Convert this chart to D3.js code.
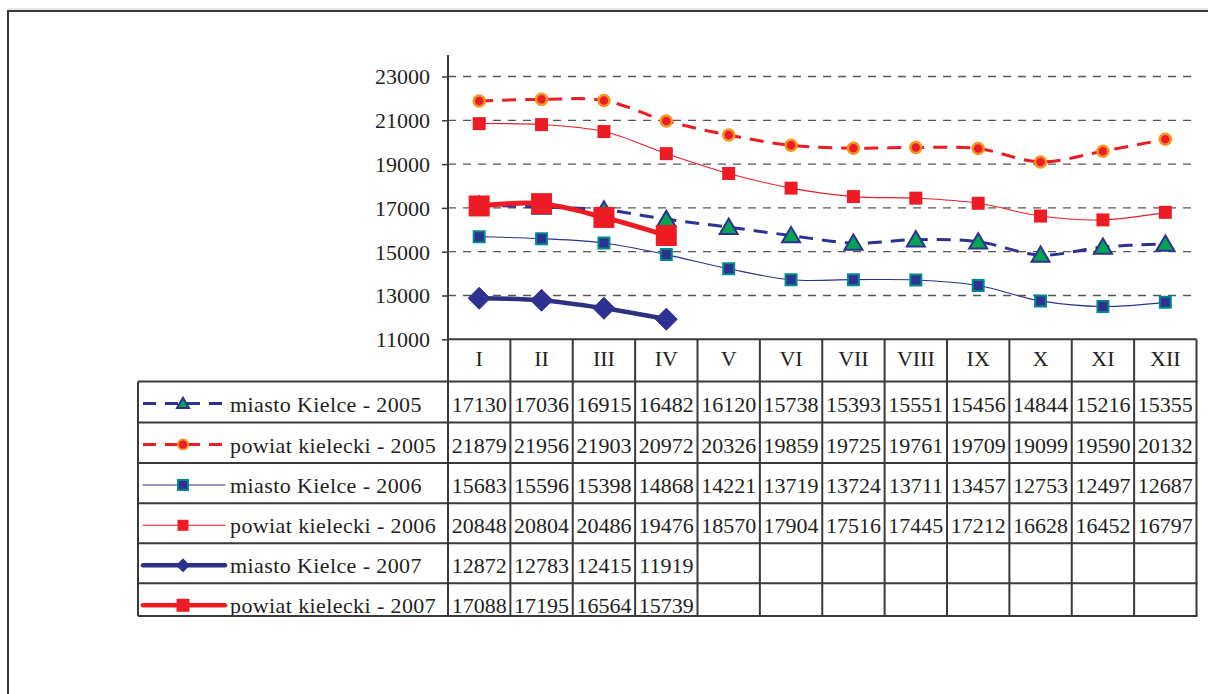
<!DOCTYPE html>
<html>
<head>
<meta charset="utf-8">
<script src="https://cdn.jsdelivr.net/npm/d3@7"></script>
<style>
  html, body { margin: 0; padding: 0; background: #fff; }
  svg { display: block; }
  text { font-family: "Liberation Serif", "Times New Roman", serif; fill: #231f20; }
</style>
</head>
<body>
<svg id="chart" width="1208" height="694"></svg>
<script>
// ---- data ----
const months = ["I","II","III","IV","V","VI","VII","VIII","IX","X","XI","XII"];
const yTicks = [11000,13000,15000,17000,19000,21000,23000];
const seriesNames = [
  "miasto Kielce - 2005",
  "powiat kielecki - 2005",
  "miasto Kielce - 2006",
  "powiat kielecki - 2006",
  "miasto Kielce - 2007",
  "powiat kielecki - 2007"
];
const kielce2005 = [17130,17036,16915,16482,16120,15738,15393,15551,15456,14844,15216,15355];
const powiat2005 = [21879,21956,21903,20972,20326,19859,19725,19761,19709,19099,19590,20132];
const kielce2006 = [15683,15596,15398,14868,14221,13719,13724,13711,13457,12753,12497,12687];
const powiat2006 = [20848,20804,20486,19476,18570,17904,17516,17445,17212,16628,16452,16797];
const kielce2007 = [12872,12783,12415,11919];
const powiat2007 = [17088,17195,16564,15739];
const seriesValues = [kielce2005, powiat2005, kielce2006, powiat2006, kielce2007, powiat2007];

// ---- styles ----
const NAVY = "#2e3192", RED = "#ed1c24", GREEN = "#00a651", ORANGE = "#f7941d", TEAL = "#008b8b";
const styles = [
  {stroke: NAVY, width: 3, dash: "14,9", marker: "triangle", fill: GREEN, mstroke: NAVY, msw: 2, size: 18, lsize: 12},
  {stroke: RED, width: 3, dash: "14,9", marker: "circle", fill: RED, mstroke: ORANGE, msw: 2.5, size: 11, lsize: 10},
  {stroke: NAVY, width: 1.1, dash: null, marker: "square", fill: NAVY, mstroke: TEAL, msw: 2, size: 11, lsize: 10},
  {stroke: RED, width: 1.1, dash: null, marker: "square", fill: RED, mstroke: RED, msw: 0, size: 13, lsize: 11},
  {stroke: "#2e3180", width: 4.5, dash: null, marker: "diamond", fill: NAVY, mstroke: "#2e3180", msw: 1, size: 22, lsize: 13},
  {stroke: RED, width: 5, dash: null, marker: "square", fill: RED, mstroke: RED, msw: 0, size: 21, lsize: 13}
];

const svg = d3.select("#chart");
const GRID = "#555";
const LINE = "#3a3a3a";

// outer frame
svg.append("line").attr("x1", 8).attr("x2", 1208).attr("y1", 9).attr("y2", 9).attr("stroke", "#ccc").attr("stroke-width", 1);
svg.append("path").attr("d", "M8,694 V11 H1208").attr("fill", "none").attr("stroke", LINE).attr("stroke-width", 2);

// scales
const plotLeft = 448, plotRight = 1196.5;
const x = d3.scaleBand().domain(months).range([plotLeft, plotRight]).padding(0);
const y = d3.scaleLinear().domain([11000, 24000]).range([339.3, 54.6]);

// grid lines
svg.append("g").selectAll("line").data(yTicks.filter(t => t > 11000)).join("line")
  .attr("x1", plotLeft).attr("x2", plotRight - 3)
  .attr("y1", d => y(d)).attr("y2", d => y(d))
  .attr("stroke", GRID).attr("stroke-width", 1.3).attr("stroke-dasharray", "8,7");

// y axis
const yAxis = d3.axisLeft(y).tickValues(yTicks).tickSize(6).tickPadding(12).tickFormat(d3.format("d"));
const gy = svg.append("g").attr("transform", `translate(${plotLeft},0)`).call(yAxis);
gy.select(".domain").remove();
gy.selectAll(".tick line").attr("stroke", LINE).attr("stroke-width", 1.5);
gy.selectAll(".tick text").attr("font-size", 22).attr("fill", "#231f20").attr("dy", "0.34em")
  .style("font-family", "'Liberation Serif', serif");
svg.append("line").attr("x1", plotLeft).attr("x2", plotLeft).attr("y1", 55).attr("y2", 616)
  .attr("stroke", LINE).attr("stroke-width", 2);

// x axis line + header row
svg.append("line").attr("x1", plotLeft).attr("x2", plotRight).attr("y1", y(11000)).attr("y2", y(11000))
  .attr("stroke", LINE).attr("stroke-width", 2);

// table geometry
const tableLeft = 138;
const rowTops = [381.5, 422.5, 463, 503.3, 543.3, 583.3];
const tableBottom = 616;
const headerTop = y(11000);

// column separators
svg.append("g").selectAll("line").data(months).join("line")
  .attr("x1", d => x(d) + x.bandwidth()).attr("x2", d => x(d) + x.bandwidth())
  .attr("y1", headerTop).attr("y2", tableBottom)
  .attr("stroke", LINE).attr("stroke-width", 2);
svg.append("line").attr("x1", tableLeft).attr("x2", tableLeft).attr("y1", rowTops[0]).attr("y2", tableBottom)
  .attr("stroke", LINE).attr("stroke-width", 2);
// row separators
svg.append("g").selectAll("line").data(rowTops.concat([tableBottom])).join("line")
  .attr("x1", tableLeft).attr("x2", plotRight + 1)
  .attr("y1", d => d).attr("y2", d => d)
  .attr("stroke", LINE).attr("stroke-width", 2);

// header labels
svg.append("g").selectAll("text").data(months).join("text")
  .attr("x", d => x(d) + x.bandwidth() / 2).attr("y", 366)
  .attr("text-anchor", "middle").attr("font-size", 22).text(d => d);

// marker path generator
function markerPath(type, s) {
  const h = s / 2;
  switch (type) {
    case "triangle": return `M0,${-h * 0.95} L${h},${h * 0.75} L${-h},${h * 0.75} Z`;
    case "square": return `M${-h},${-h} H${h} V${h} H${-h} Z`;
    case "diamond": return `M0,${-h} L${h},0 L0,${h} L${-h},0 Z`;
    case "circle": return d3.symbol(d3.symbolCircle, Math.PI * h * h)();
  }
}

// clip for table
const defs = svg.append("defs");
defs.append("clipPath").attr("id", "tableclip").append("rect")
  .attr("x", tableLeft).attr("y", rowTops[0]).attr("width", plotRight - tableLeft).attr("height", tableBottom - rowTops[0] - 1);

// series lines
const line = d3.line().x((d, i) => x(months[i]) + x.bandwidth() / 2).y(d => y(d)).curve(d3.curveCatmullRom.alpha(0.5));
const gSeries = svg.append("g");
seriesValues.forEach((vals, si) => {
  const st = styles[si];
  const g = gSeries.append("g");
  g.append("path").attr("d", line(vals)).attr("fill", "none")
    .attr("stroke", st.stroke).attr("stroke-width", st.width)
    .attr("stroke-dasharray", st.dash).attr("stroke-linejoin", "round");
  g.selectAll("path.m").data(vals).join("path").attr("class", "m")
    .attr("transform", (d, i) => `translate(${x(months[i]) + x.bandwidth() / 2},${y(d)})`)
    .attr("d", markerPath(st.marker, st.size))
    .attr("fill", st.fill).attr("stroke", st.msw ? st.mstroke : "none").attr("stroke-width", st.msw);
});

// table body
const gTable = svg.append("g").attr("clip-path", "url(#tableclip)");
seriesValues.forEach((vals, si) => {
  const st = styles[si];
  const top = rowTops[si];
  const ly = top + 22;
  gTable.append("line").attr("x1", 143).attr("x2", 225).attr("y1", ly).attr("y2", ly)
    .attr("stroke", st.stroke).attr("stroke-width", Math.min(st.width, 4.5)).attr("stroke-dasharray", st.dash ? "13,9" : null)
    .attr("stroke-linecap", st.dash ? "butt" : "round");
  gTable.append("path").attr("transform", `translate(183,${ly})`)
    .attr("d", markerPath(st.marker, st.lsize))
    .attr("fill", st.fill).attr("stroke", st.msw ? st.mstroke : "none").attr("stroke-width", Math.min(st.msw, 2));
  gTable.append("text").attr("x", 230).attr("y", top + 30).attr("font-size", 22)
    .attr("letter-spacing", 0.4).text(seriesNames[si]);
  gTable.selectAll(null).data(vals).join("text")
    .attr("x", (d, i) => x(months[i]) + x.bandwidth() / 2).attr("y", top + 30)
    .attr("text-anchor", "middle").attr("font-size", 22).text(d => d);
});
</script>
</body>
</html>
